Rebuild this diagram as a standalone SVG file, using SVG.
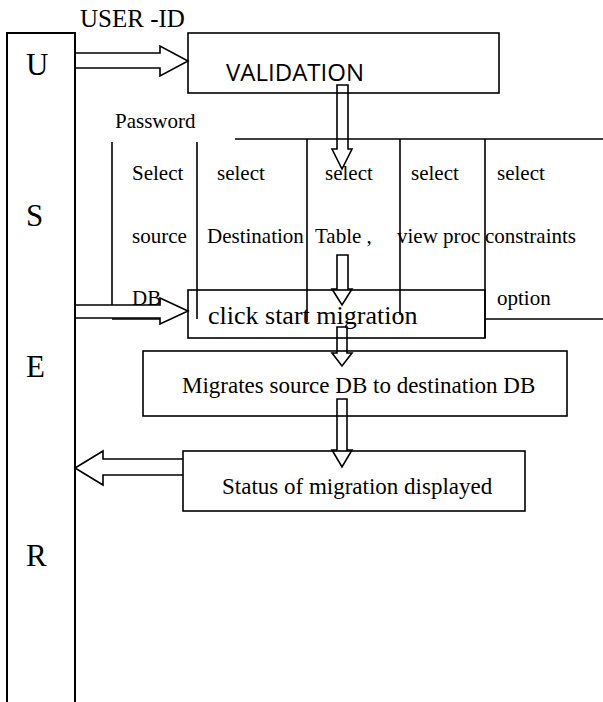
<svg xmlns="http://www.w3.org/2000/svg" width="603" height="702" viewBox="0 0 603 702">
<style>
.ln{fill:none;stroke:#000;stroke-width:1.6}
.box{fill:none;stroke:#000;stroke-width:1.6}
.arr{fill:none;stroke:#000;stroke-width:1.6;stroke-linejoin:miter}
</style>
<rect width="603" height="702" fill="#fff"/>
<g id="user" font-family="'Liberation Serif', 'Times New Roman', 'DejaVu Serif', serif">
<path class="ln" d="M7,702 V33 H75 V702" style="stroke-width:2"/>
<text x="26" y="75" font-size="31">U</text>
<text x="26" y="226" font-size="31">S</text>
<text x="26" y="377" font-size="31">E</text>
<text x="26" y="566" font-size="31">R</text>
</g>
<g id="user-id-label" font-family="'Liberation Serif', 'Times New Roman', 'DejaVu Serif', serif">
<text x="80" y="27" font-size="25">USER -ID</text>
</g>
<g id="validation">
<rect class="box" x="188" y="33" width="311" height="60"/>
<text x="226" y="81" font-size="24" font-family="'Open Sans', 'Liberation Sans', sans-serif">VALIDATION</text>
</g>
<g id="options-table" font-family="'Liberation Serif', 'Times New Roman', 'DejaVu Serif', serif">
<text x="115" y="128" font-size="21">Password</text>
<path class="ln" d="M235,139 H603 M112,142 V305 M197,142 V319 M307,139 V322 M400,139 V315 M485,139 V338 M485,319 H603 M112,319 H160"/>
<text font-size="21">
<tspan x="132" y="180">Select</tspan>
<tspan x="217" y="180">select</tspan>
<tspan x="325" y="180">select</tspan>
<tspan x="411" y="180">select</tspan>
<tspan x="497" y="180">select</tspan>
<tspan x="132" y="243">source</tspan>
<tspan x="207" y="243">Destination</tspan>
<tspan x="315" y="243">Table ,</tspan>
<tspan x="397" y="243">view proc</tspan>
<tspan x="485" y="243">constraints</tspan>
<tspan x="132" y="305">DB</tspan>
<tspan x="497" y="305">option</tspan>
</text>
</g>
<g id="click-start" font-family="'Liberation Serif', 'Times New Roman', 'DejaVu Serif', serif">
<rect class="box" x="188" y="290" width="297" height="48"/>
<text x="208" y="324" font-size="26">click start migration</text>
</g>
<g id="migrates" font-family="'Liberation Serif', 'Times New Roman', 'DejaVu Serif', serif">
<rect class="box" x="143" y="351" width="424" height="65"/>
<text x="182" y="393" font-size="23">Migrates source DB to destination DB</text>
</g>
<g id="status" font-family="'Liberation Serif', 'Times New Roman', 'DejaVu Serif', serif">
<rect class="box" x="183" y="451" width="342" height="60"/>
<text x="222" y="494" font-size="23">Status of migration displayed</text>
</g>
<g id="connectors">
<path class="arr" d="M75,53 H160 V46 L188,61 L160,76 V68 H75"/>
<path class="arr" d="M75,305 H160 V298 L188,311 L160,324 V318 H75"/>
<path class="arr" d="M337,85 V149 H332 L342,169 L352,149 H348 V85 Z"/>
<path class="arr" d="M337,255 V289 H332 L342,305 L352,289 H348 V255 Z"/>
<path class="arr" d="M337,327 V353 H332 L342,366 L352,353 H347 V327 Z"/>
<path class="arr" d="M337,399 V450 H332 L342,467 L352,450 H347 V399 Z"/>
<path class="arr" d="M183,459 H103 V451 L75,468 L103,485 V475 H183"/>
</g>
</svg>
